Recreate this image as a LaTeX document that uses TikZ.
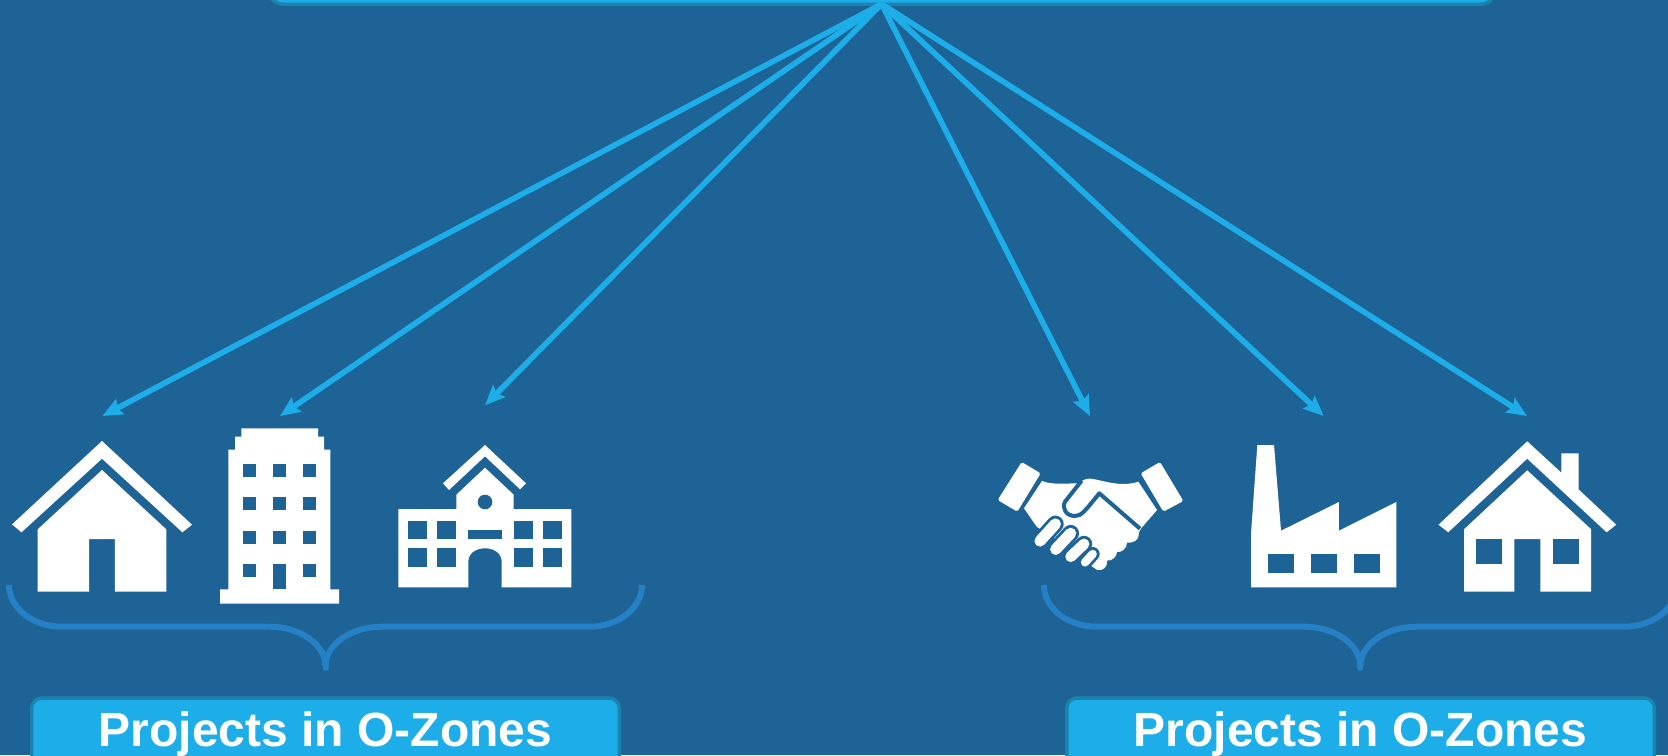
\documentclass[tikz,border=0pt]{standalone}
\usepackage{fontspec}
\setmainfont{Liberation Sans}
\usetikzlibrary{arrows.meta}
\definecolor{bgblue}{HTML}{1D6396}
\definecolor{skyfill}{HTML}{1DADE8}
\definecolor{skyedge}{HTML}{1B84AE}
\definecolor{bracecol}{HTML}{2680C6}
\tikzset{
  x=0.5pt,y=-0.5pt,
  spoke/.style={draw=skyfill,line width=2.8pt,-{Stealth[length=10pt,width=8.5pt,inset=1.6pt]}},
  skybox/.style={draw=skyedge,line width=1.7pt,fill=skyfill,rounded corners=5pt,inner sep=0pt,
    text=white,font=\bfseries\fontsize{24pt}{24pt}\selectfont},
  icon/.style={fill=white},
  hole/.style={fill=bgblue},
  bracestroke/.style={draw=bracecol,line width=3pt},
}
\begin{document}
\begin{tikzpicture}
\useasboundingbox (0,0) rectangle (1668,755);
\clip (0,0) rectangle (1668,755);
\fill[bgblue] (0,0) rectangle (1668,755);

% boxes
\node[skybox,rounded corners=8pt,anchor=south,minimum width=614pt,minimum height=30pt] (topbox) at (882,6) {};
\node[skybox,anchor=base,minimum width=293.8pt,text height=24.3pt,text depth=12pt] (boxL) at (325.5,746.7) {Projects in O-Zones};
\node[skybox,anchor=base,minimum width=293.8pt,text height=24.3pt,text depth=12pt] (boxR) at (1360.6,746.7) {Projects in O-Zones};

% connectors
\coordinate (hub) at (881.6,4);
\coordinate (tipA) at (102.4,416);
\coordinate (tipB) at (280,416);
\coordinate (tipC) at (485,405.3);
\coordinate (tipD) at (1090,416);
\coordinate (tipE) at (1323.6,416);
\coordinate (tipF) at (1527,416);
\foreach \t in {tipA,tipB,tipC,tipD,tipE,tipF}{\draw[spoke] (hub) -- (\t);}

% house 1
\fill[icon] (102,441) -- (192,524.7) -- (182.4,532.3) -- (102,458.7) -- (21.5,532.3) -- (12,524.4) -- cycle;
\fill[icon] (102,470) -- (166.3,529.3) -- (166.3,591.7) -- (114.8,591.7) -- (114.8,539) -- (89.1,539) -- (89.1,591.7) -- (37.7,591.7) -- (37.7,529.3) -- cycle;

% tower
\fill[icon] (241.3,428.3) -- (318,428.3) -- (318,436.7) -- (324.2,436.7) -- (324.2,449.7) -- (330.4,449.7) -- (330.4,589.3) -- (339,589.3) -- (339,603.7) -- (220,603.7) -- (220,589.3) -- (228.4,589.3) -- (228.4,449.7) -- (235,449.7) -- (235,436.7) -- (241.3,436.7) -- cycle;
\foreach \wy in {464,497.3,531,564}{
  \foreach \wx in {243.4,273.2,303}{
    \fill[hole] (\wx,\wy) rectangle ++(12.8,12.7);
  }
}
\fill[hole] (273.2,564) rectangle (286,589.3);

% school
\fill[icon] (485,445) -- (526,483.3) -- (520,489.3) -- (485,456.3) -- (449,490) -- (443,483.3) -- cycle;
\fill[icon] (485,467.7) -- (513.7,494.7) -- (513.7,509) -- (571.3,509) -- (571.3,587.3) -- (501.7,587.3) -- (501.7,561.7) .. controls (501.7,553) and (494,548.3) .. (485,548.3) .. controls (476,548.3) and (468.3,553) .. (468.3,561.7) -- (468.3,587.3) -- (398.3,587.3) -- (398.3,509) -- (456.3,509) -- (456.3,494.7) -- cycle;
\fill[hole] (485,502) circle [radius=7.3];
\foreach \wx/\wr in {408.3/427.3,437/456.3,514/533,542.7/561.7}{
  \fill[hole] (\wx,520.7) rectangle (\wr,539);
  \fill[hole] (\wx,548.3) rectangle (\wr,566.7);
}
\fill[hole] (468.3,530) rectangle (501.7,539);

% handshake
\begin{scope}[shift={(980,440)},scale=1/3]
  \fill[icon,rounded corners=0.8pt] (125,66) -- (182,100) -- (112,215) -- (53,180) -- cycle;
  \fill[icon,rounded corners=0.8pt] (540,66) -- (482,100) -- (550,215) -- (610,183) -- cycle;
  \fill[icon] (186,123) .. controls (215,135) and (260,130) .. (295,130)
     .. controls (310,118) and (325,112) .. (345,118) .. controls (390,128) and (430,140) .. (475,125)
     -- (531,210) -- (485,263) .. controls (482,270) and (476,272) .. (476,285)
     .. controls (476,300) and (460,310) .. (441,308) .. controls (441,325) and (425,338) .. (411,336)
     .. controls (410,350) and (398,362) .. (381,362) .. controls (384,380) and (368,394) .. (352,390)
     -- (334,378) -- (290,340) -- (170,260) -- (132,205) -- cycle;
  \draw[bgblue,line width=2pt,line join=round] (305,122) -- (255,185) .. controls (245,205) and (258,228) .. (285,228) .. controls (305,228) and (315,212) .. (358,160) -- (480,266);
  \foreach \ax/\ay/\bx/\by/\w in {338/342/315/367/4.2,312/312/272/350/5.4,272/280/227/328/5.6,226/252/180/303/5.6}{
    \draw[bgblue,line width=\w pt+2.8pt,line cap=round] (\ax,\ay) -- (\bx,\by);
    \draw[white,line width=\w pt,line cap=round] (\ax,\ay) -- (\bx,\by);
  }
\end{scope}

% factory
\fill[icon] (1257.3,445) -- (1274,445) -- (1281,530.7) -- (1338.9,502) -- (1338.9,530.7) -- (1396.4,502) -- (1396.4,587.3) -- (1251.2,587.3) -- (1251.2,530.7) -- cycle;
\foreach \wx in {1267.8,1310.8,1353.8}{
  \fill[hole] (\wx,554) rectangle ++(25.9,18.7);
}

% house 2
\fill[icon] (1527.2,441.3) -- (1561.4,472.7) -- (1561.4,453.3) -- (1578.5,453.3) -- (1578.5,489.3) -- (1616.2,524.7) -- (1606.6,532.3) -- (1527.2,458.7) -- (1448.2,532.3) -- (1438.5,524.7) -- cycle;
\fill[icon] (1527.2,470.3) -- (1591.2,529.3) -- (1591.2,591.7) -- (1540.3,591.7) -- (1540.3,539) -- (1514.4,539) -- (1514.4,591.7) -- (1464,591.7) -- (1464,529.3) -- cycle;
\fill[hole] (1476.3,539) rectangle (1502.2,564.3);
\fill[hole] (1553,539) rectangle (1578.5,564.3);

% braces
\foreach \c in {325.5,1360.4}{
  \begin{scope}[shift={(\c,0)}]
    \draw[bracestroke] (-316.5,585) .. controls (-316.5,608) and (-293,626.7) .. (-263.5,626.7) -- (-56,626.7) .. controls (-25,626.7) and (0,645) .. (0,666);
    \draw[bracestroke] (316.5,585) .. controls (316.5,608) and (293,626.7) .. (263.5,626.7) -- (56,626.7) .. controls (25,626.7) and (0,645) .. (0,666);
    \draw[bracestroke,line cap=round] (0,655) -- (0,668);
  \end{scope}
}
\end{tikzpicture}
\end{document}
